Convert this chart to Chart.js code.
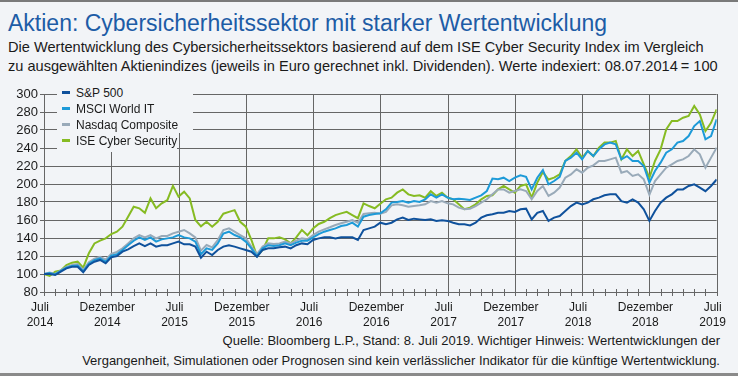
<!DOCTYPE html>
<html lang="de">
<head>
<meta charset="utf-8">
<script src="https://cdn.jsdelivr.net/npm/chart.js@4.4.1/dist/chart.umd.min.js"></script>
<style>
  html, body { margin: 0; padding: 0; }
  body { width: 738px; height: 376px; background: #f2f4f7; position: relative; overflow: hidden;
         font-family: "Liberation Sans", Arial, sans-serif; color: #1a1a1a; }
  .topbar { position: absolute; left: 0; top: 0; width: 738px; height: 2px; background: #7a7a7a; }
  .bottombar { position: absolute; left: 0; top: 373px; width: 738px; height: 3px; background: #8a8a8a; }
  h1 { position: absolute; left: 8px; top: 10px; margin: 0; font-size: 23px; line-height: 26px;
       font-weight: normal; color: #1d5ca6; white-space: nowrap; }
  .sub { position: absolute; left: 8px; top: 38px; font-size: 14.6px; line-height: 19px; white-space: nowrap; }
  .src { position: absolute; right: 18px; top: 331px; font-size: 13px; line-height: 20px; text-align: right; white-space: nowrap; }
  #wrap { position: absolute; left: 0; top: 80px; width: 738px; height: 250px; }
  .leg { position: absolute; background: #f2f4f7; font-size: 12px; line-height: 16px; height: 16px; white-space: nowrap; }
  .leg i { display: inline-block; width: 8px; height: 3px; margin: 0 6px 0 5px; vertical-align: middle; position: relative; top: -1px; }
</style>
</head>
<body>
<div class="topbar"></div>
<h1>Aktien: Cybersicherheitssektor mit starker Wertentwicklung</h1>
<div class="sub">Die Wertentwicklung des Cybersicherheitssektors basierend auf dem ISE Cyber Security Index im Vergleich<br>zu ausgewählten Aktienindizes (jeweils in Euro gerechnet inkl. Dividenden). Werte indexiert: 08.07.2014&#8201;= 100</div>
<div id="wrap"><canvas id="chart" width="738" height="250"></canvas></div>
<div id="legend"></div>
<div class="src">Quelle: Bloomberg L.P., Stand: 8. Juli 2019. Wichtiger Hinweis: Wertentwicklungen der<br>Vergangenheit, Simulationen oder Prognosen sind kein verlässlicher Indikator für die künftige Wertentwicklung.</div>
<div class="bottombar"></div>
<script>
// half-monthly values, 08.07.2014 = 100, last point 08.07.2019
const STEP_MONTHS = 0.5;
const TOTAL_MONTHS = 60;

const seriesNames = ["S&P 500", "MSCI World IT", "Nasdaq Composite", "ISE Cyber Security"];

const sp500 = [
  100, 100, 98.9, 102.6, 106.3, 108, 108, 101.9, 110, 113.7, 115.6, 111.9,
  118.5, 120, 124.8, 127.4, 131, 134, 131, 134, 130.4, 132, 132, 134,
  136, 133, 133, 130.4, 118, 124.8, 121, 126.7, 130.4, 132, 130.4, 128.5,
  126.7, 124.8, 119, 126.7, 128.5, 128.5, 129.6, 130.4, 128.5, 132, 134, 133,
  137.8, 139.6, 140.7, 140.7, 139.6, 140.7, 140.7, 140.7, 137.8, 148.9, 150.7, 152.6,
  157, 155.2, 157, 160.7, 162.6, 160, 161.5, 160.7, 160, 160.7, 159, 159.6,
  159, 157, 155.2, 155.2, 154, 157, 162.6, 165.2, 166.3, 168, 168, 170,
  168.9, 171.9, 172.6, 160.7, 168, 170, 159, 162.6, 164.4, 170, 175.5, 179.3,
  177.4, 179.3, 183, 184.8, 187.4, 188.5, 188.5, 181, 179.3, 183, 179.3, 171.9,
  159, 170, 179.3, 184.8, 188.5, 194, 194, 197.8, 199.6, 196, 192, 197.8,
  205
];

const msciWorldIT = [
  100, 101, 99.5, 103.5, 107, 109, 109.5, 103, 111.5, 115.5, 117.5, 113.5,
  120.5, 122, 126.7, 132, 137, 140.7, 137.8, 140.7, 136, 138.5, 139.6, 140.7,
  143.3, 140.7, 139.6, 136, 122, 128.5, 126.7, 134, 145, 147, 143.3, 140.7,
  136, 128.5, 120, 128.5, 132, 131, 132, 134, 132, 134.8, 137, 137,
  140.7, 144.4, 147, 148.9, 150.7, 153.3, 154.4, 157, 152.6, 163.7, 165.5, 166.7,
  167.4, 171.9, 179.3, 180, 181, 179.3, 181, 180, 183, 188.5, 184.8, 188.5,
  184.8, 183, 183.7, 183, 182.2, 184.8, 187.4, 192.2, 206, 205.2, 207, 203.3,
  207, 209.6, 208, 194, 207, 215.6, 199.6, 203.3, 208, 225.6, 229.3, 234.8,
  227.4, 236.7, 231, 238.5, 244, 246, 244, 227.4, 231, 225.6, 225.6, 220,
  201.5, 214.4, 223.7, 234.8, 238.5, 246, 247.8, 253.3, 264.4, 270, 249.6, 253.3,
  271.9
];

const nasdaq = [
  100, 101.5, 100, 104, 108, 110, 111, 104.5, 113, 117, 119, 116,
  122.5, 124.5, 128.5, 134, 139.6, 143.3, 140.7, 143.3, 139.6, 142.2, 142.2, 145.2,
  147, 148.9, 145.2, 140.7, 126, 132.2, 129.6, 137.8, 148.9, 150.7, 147, 143.3,
  139.6, 130.4, 122.2, 130.4, 134, 133.3, 134, 136, 134, 137, 139.6, 138.5,
  143.3, 147, 149.6, 151.9, 154.4, 156.3, 158.1, 160, 157, 166.7, 167.4, 168.1,
  167, 168.9, 176.3, 177.4, 176.3, 174.8, 175.5, 176.3, 177.4, 181, 179.3, 181,
  178.5, 177.4, 173.7, 171.9, 172.6, 175.5, 179.3, 183, 188.5, 194, 194, 190.4,
  192.2, 194, 192.2, 183, 192.2, 197.8, 186.7, 190.4, 196, 207, 210.7, 216.3,
  212.6, 218.1, 220.7, 225.6, 225.6, 227.4, 229.3, 212.6, 214.4, 208.9, 210.7, 205.2,
  188, 203.3, 210.7, 218.1, 221.8, 225.6, 227.4, 231.1, 238.5, 233, 218.1, 229.3,
  240.4
];

const iseCyber = [
  100, 97.8, 102.6, 104, 110, 112.6, 113.7, 107, 123, 134, 137, 139.6,
  144.4, 147, 152.6, 163.7, 174.8, 173, 168, 184, 173, 178.5, 182, 198,
  186, 191.5, 184, 160, 153, 158, 152.6, 158, 167, 169, 171, 158,
  152.6, 137.8, 120, 126.7, 139.6, 139.6, 140.7, 138.5, 134, 140.7, 149, 143,
  150.7, 155.6, 158, 162, 165.5, 167.4, 169, 165.5, 162, 178.5, 175.5, 173,
  178, 183, 184.8, 190.4, 194, 188.5, 186.7, 187.4, 184.8, 192, 186.7, 190.4,
  184.8, 183, 177.4, 172, 173.7, 177.4, 183, 186.7, 187.4, 194, 197.8, 194,
  190.4, 197.8, 199.6, 184.8, 201.5, 213.3, 205, 207, 210.7, 225.6, 231, 238.5,
  229, 236.7, 231, 240.4, 246, 246, 247.8, 227.4, 238.5, 231, 236.7, 221.8,
  207, 225.6, 238.5, 260.7, 270, 270, 273.7, 275.6, 286.7, 277.4, 258.9, 268,
  283
];

const xTickLabels = [
  ["Juli", "2014"], ["Dezember", "2014"], ["Juli", "2015"], ["Dezember", "2015"],
  ["Juli", "2016"], ["Dezember", "2016"], ["Juli", "2017"], ["Dezember", "2017"],
  ["Juli", "2018"], ["Dezember", "2018"], ["Juli", "2019"]
];
const MONTHS_PER_LABEL = 6;

const colors = ["#0f519c", "#1d9ad8", "#99aab9", "#86bb22"];
const GRID = "#666666";
const FONT = "'Liberation Sans', Arial, sans-serif";

const allSeries = [sp500, msciWorldIT, nasdaq, iseCyber];

// legend boxes inside the plot, like the original
const legendEl = document.getElementById("legend");
seriesNames.forEach((name, i) => {
  const row = document.createElement("div");
  row.className = "leg";
  row.style.left = "57px";
  row.style.top = (85 + 16 * i) + "px";
  row.style.width = (i === 3 ? 120 : 136) + "px";
  if (i === 3) row.style.height = "19px";
  row.innerHTML = '<i style="background:' + colors[i] + '"></i>' + name.replace("&", "&amp;");
  legendEl.appendChild(row);
});

// half-year grid lines and monthly tick marks crossing the x axis
const monthGrid = {
  id: "monthGrid",
  beforeDatasetsDraw(chart) {
    const xs = chart.scales.x;
    const area = chart.chartArea;
    const c = chart.ctx;
    c.save();
    c.lineWidth = 1;
    c.strokeStyle = GRID;
    c.beginPath();
    for (let h = 0; h < xTickLabels.length; h++) {
      const px = Math.round(xs.getPixelForValue(h * MONTHS_PER_LABEL)) + 0.5;
      c.moveTo(px, area.top);
      c.lineTo(px, area.bottom + 4);
    }
    for (let m = 0; m <= TOTAL_MONTHS; m++) {
      const px = Math.round(xs.getPixelForValue(m)) + 0.5;
      c.moveTo(px, area.bottom - 3);
      c.lineTo(px, area.bottom + 4);
    }
    c.stroke();
    c.restore();
  }
};

new Chart(document.getElementById("chart"), {
  type: "line",
  data: {
    datasets: allSeries.map((vals, i) => ({
      label: seriesNames[i],
      data: vals.map((v, k) => ({ x: k * STEP_MONTHS, y: v })),
      borderColor: colors[i],
      backgroundColor: colors[i],
      borderWidth: 2,
      pointRadius: 0,
      tension: 0
    }))
  },
  options: {
    responsive: false,
    animation: false,
    devicePixelRatio: 1,
    layout: { padding: { left: 0, right: 19, top: 14, bottom: 0 } },
    plugins: {
      legend: { display: false },
      tooltip: { enabled: false }
    },
    scales: {
      x: {
        type: "linear",
        min: 0,
        max: TOTAL_MONTHS,
        afterFit: (s) => { s.height = 38; },
        border: { color: GRID },
        grid: { display: false, drawTicks: false },
        ticks: {
          stepSize: 1,
          autoSkip: false,
          maxRotation: 0,
          padding: 8,
          labelOffset: -4,
          color: "#1a1a1a",
          font: { family: FONT, size: 12, lineHeight: 1.25 },
          callback: (v) => (v % MONTHS_PER_LABEL === 0 ? xTickLabels[v / MONTHS_PER_LABEL] : "")
        }
      },
      y: {
        min: 80,
        max: 300,
        afterFit: (s) => { s.width = 44; },
        border: { color: GRID },
        grid: { color: GRID, tickLength: 4 },
        ticks: {
          stepSize: 20,
          autoSkip: false,
          padding: 2,
          color: "#1a1a1a",
          font: { family: FONT, size: 13 }
        }
      }
    }
  },
  plugins: [monthGrid]
});
</script>
</body>
</html>
